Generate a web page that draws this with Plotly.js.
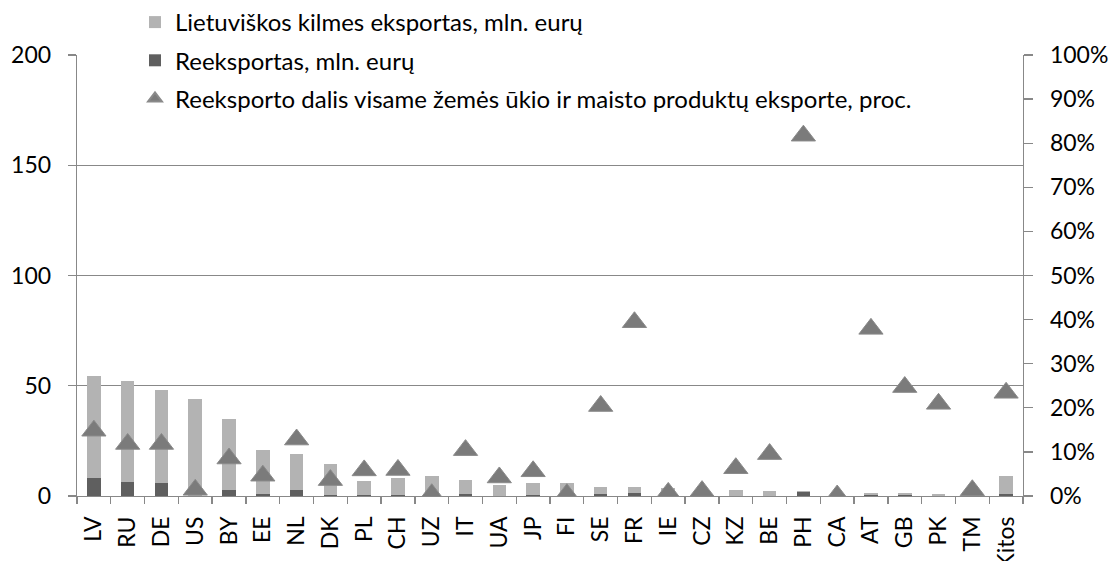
<!DOCTYPE html>
<html>
<head>
<meta charset="utf-8">
<script src="https://cdn.plot.ly/plotly-3.0.1.min.js"></script>
<style>html,body{margin:0;padding:0;background:#fff}#chart{width:1111px;height:561px}</style>
</head>
<body>
<div id="chart"></div>
<script>
const countries = ["LV","RU","DE","US","BY","EE","NL","DK","PL","CH","UZ","IT","UA","JP","FI","SE","FR","IE","CZ","KZ","BE","PH","CA","AT","GB","PK","TM","Kitos"];
const lithuanianExport = [46.3,46.0,42.3,43.9,31.9,20.0,16.5,13.9,6.6,7.5,8.9,6.5,4.8,5.6,5.7,3.1,2.4,3.5,1.0,2.4,2.2,0.4,0.5,0.85,0.9,0.9,0.3,8.1];
const reexport = [8.3,6.3,5.9,0.2,2.8,0.9,2.7,0.5,0.4,0.5,0.0,0.7,0.2,0.3,0.0,0.8,1.5,0.0,0.0,0.2,0.2,1.7,0.0,0.5,0.3,0.2,0.0,0.8];
const reexportShare = [14.8,11.8,11.8,1.4,8.5,4.6,12.8,3.6,5.8,5.9,0.4,10.4,4.2,5.6,0.4,20.4,39.4,0.7,1.1,6.3,9.5,81.7,0.1,37.9,24.7,20.9,1.3,23.4];
const seriesNames = ["Lietuviškos kilmes eksportas, mln. eurų","Reeksportas, mln. eurų","Reeksporto dalis visame žemės ūkio ir maisto produktų eksporte, proc."];
const leftTicks = [0,50,100,150,200];

const FONT = "Lato, 'Open Sans', sans-serif";
const TF = {family:FONT, size:23, color:"#000"};

const traces = [
  {type:"bar", x:countries, y:reexport, name:seriesNames[1], marker:{color:"#5f5f5f"}, width:0.4, legendrank:2, legendgroup:"b"},
  {type:"bar", x:countries, y:lithuanianExport, name:seriesNames[0], marker:{color:"#b3b3b3"}, width:0.4, legendrank:1, legendgroup:"a"},
  {type:"scatter", mode:"markers", x:countries, y:reexportShare.map(v=>v/100), yaxis:"y2", name:seriesNames[2],
   marker:{symbol:"triangle-up", size:21, color:"#7b7b7b", line:{color:"#8a8a8a", width:1}}, legendrank:3, legendgroup:"c"}
];

const layout = {
  width:1111, height:561,
  margin:{l:77, r:88, t:55, b:65, pad:0, autoexpand:false},
  paper_bgcolor:"#fff", plot_bgcolor:"rgba(0,0,0,0)",
  font:TF,
  barmode:"stack",
  showlegend:true,
  legend:{xref:"container", yref:"container", x:135/1111, y:1.0, xanchor:"left", yanchor:"top", bgcolor:"rgba(0,0,0,0)", font:{family:FONT, size:24, color:"#000"},
          traceorder:"grouped", tracegroupgap:4, itemsizing:"constant", itemwidth:30},
  xaxis:{type:"category", range:[-0.5, countries.length-0.5], showline:true, linecolor:"#888", linewidth:1.3, ticks:"outside", tickson:"boundaries", ticklen:7, tickcolor:"#888", tickwidth:1.3,
         tickangle:-90, showgrid:false, automargin:false, ticklabelstandoff:10, tickfont:TF},
  yaxis:{range:[0,200], tickvals:leftTicks, showline:true, linecolor:"#888", linewidth:1.3, ticks:"outside", ticklen:8, tickcolor:"#888", tickwidth:1.3,
         showgrid:true, gridcolor:"#888", gridwidth:1.3, zeroline:false, automargin:false, ticklabelstandoff:12, tickfont:TF},
  yaxis2:{overlaying:"y", side:"right", range:[0,1], dtick:0.1, tickformat:".0%", showline:true, linecolor:"#888", linewidth:1.3, ticks:"outside", ticklen:9,
          tickcolor:"#888", tickwidth:1.3, showgrid:false, zeroline:false, automargin:false, ticklabelstandoff:12, tickfont:TF}
};

Plotly.newPlot("chart", traces, layout, {staticPlot:true, displayModeBar:false});
</script>
</body>
</html>
